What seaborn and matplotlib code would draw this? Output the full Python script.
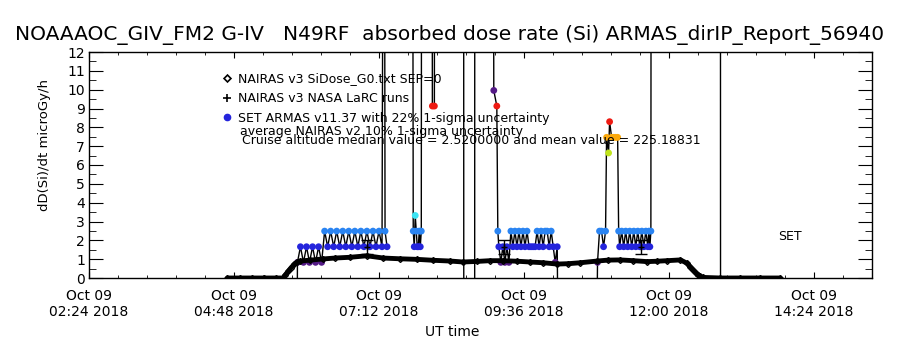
import numpy as np
import pandas as pd
import seaborn as sns
import matplotlib.pyplot as plt
from matplotlib.lines import Line2D
from matplotlib.ticker import MultipleLocator

# NAIRAS v3 SiDose_G0 model along the flight (UT hours, microGy/h)
nairas_hr = [4.69, 4.90, 5.10, 5.30, 5.50, 5.61, 5.645, 5.695, 5.745, 5.795, 5.845, 5.895,
             6.06, 6.27, 6.47, 6.72, 7.00, 7.27, 7.55, 7.83, 8.10, 8.38, 8.59, 8.82, 9.04,
             9.25, 9.49, 9.70, 9.92, 10.15, 10.33, 10.53, 10.81, 10.99, 11.19, 11.41, 11.64,
             11.80, 11.97, 12.19, 12.30, 12.35, 12.40, 12.45, 12.48, 12.52, 12.57, 12.85,
             13.18, 13.51, 13.84]
nairas_dose = [0, 0, 0, 0, 0, 0, 0.15, 0.35, 0.55, 0.72, 0.85, 0.90,
               0.95, 1.01, 1.06, 1.10, 1.18, 1.06, 1.02, 0.99, 0.94, 0.90, 0.85, 0.88, 0.92,
               0.92, 0.89, 0.85, 0.81, 0.74, 0.76, 0.81, 0.90, 0.95, 0.96, 0.92, 0.87,
               0.89, 0.92, 0.96, 0.78, 0.60, 0.42, 0.25, 0.16, 0.08, 0.03, 0,
               0, 0, 0]

# SET ARMAS record (UT minutes, microGy/h); 40 / -5 are off-scale spikes and dropouts
armas1_min = [350.5, 351, 354, 357, 360, 363, 366, 369, 372, 375, 378, 381, 384, 387, 390,
              393, 396, 399, 402, 405, 408, 411, 414, 417, 420, 423, 426, 429, 432, 435,
              437, 438, 440]
armas1_dose = [-5, 0.83, 1.66, 0.83, 1.66, 0.83, 1.66, 0.83, 1.66, 0.83, 2.49, 1.66, 2.49,
               1.66, 2.49, 1.66, 2.49, 1.66, 2.49, 1.66, 2.49, 1.66, 2.49, 1.66, 2.49, 1.66,
               2.49, 1.66, 2.49, 1.66, 40, 2.49, 1.66]

armas2_min = [465, 466, 467, 468, 469, 470, 471, 472, 473, 474, 474.5,
              484.5, 485, 487, 487.5, 516, 516.2, 527, 527.2, 545, 546, 549,
              550, 551, 553, 555, 557, 559, 561, 563, 565, 567, 569, 571, 573, 575, 577, 579,
              581, 583, 585, 587, 589, 591, 593, 595, 597, 599, 601, 603, 605, 607, 609, 610,
              648, 649, 651, 653, 655, 657, 658, 660, 661, 663, 665, 667, 669,
              670, 671, 673, 675, 677, 679, 681, 683, 685, 687, 689, 691, 693, 695, 697, 699,
              700, 701, 702, 702.5, 771, 771.2]
armas2_dose = [40, 2.49, 1.66, 3.32, 2.49, 1.66, 1.66, 2.49, 1.66, 2.49, 40,
               40, 9.13, 9.13, 40, 40, -5, -5, 40, 40, 9.96, 9.13,
               2.49, 1.66, 0.83, 1.66, 0.83, 1.66, 0.83, 2.49, 1.66, 2.49, 1.66, 2.49, 1.66,
               2.49, 1.66, 2.49,
               1.66, 1.66, 1.66, 1.66, 2.49, 1.66, 2.49, 1.66, 2.49, 2.49, 1.66, 2.49, 1.66,
               0.83, 1.66, -5,
               -5, 0.83, 2.49, 2.49, 1.66, 2.49, 7.47, 6.64, 8.30, 7.47, 7.47, 7.47, 7.47,
               2.49, 1.66, 2.49, 1.66, 2.49, 1.66, 2.49, 1.66, 2.49, 1.66, 2.49, 1.66, 2.49,
               1.66, 2.49, 1.66, 2.49, 1.66, 2.49, 40, 40, -5]

# NAIRAS v3 NASA LaRC runs with 22% 1-sigma bars
larc_min = [420, 556, 692]
larc_dose = [1.66, 1.66, 1.66]
larc_err = [0.37, 0.37, 0.37]

dose_colors = {0.83: '#541a86', 1.66: '#2424dc', 2.49: '#2a84f2', 3.32: '#3ce4f4',
               6.64: '#c0e41c', 7.47: '#fca90c', 8.30: '#ee1a12', 9.13: '#ee1a12',
               9.96: '#541a86'}

tick_hr = [2.4, 4.8, 7.2, 9.6, 12.0, 14.4]
tick_labels = ['Oct 09\n02:24 2018', 'Oct 09\n04:48 2018', 'Oct 09\n07:12 2018',
               'Oct 09\n09:36 2018', 'Oct 09\n12:00 2018', 'Oct 09\n14:24 2018']

title = 'NOAAAOC_GIV_FM2 G-IV   N49RF  absorbed dose rate (Si) ARMAS_dirIP_Report_56940'
legend_labels = ['NAIRAS v3 SiDose_G0.txt SEP=0', 'NAIRAS v3 NASA LaRC runs',
                 'SET ARMAS v11.37 with 22% 1-sigma uncertainty']

sns.set_style('ticks')
plt.rcParams['font.family'] = ['DejaVu Sans']
plt.rcParams.update({'text.color': 'black', 'axes.labelcolor': 'black',
                     'xtick.color': 'black', 'ytick.color': 'black'})

armas = pd.concat([
    pd.DataFrame({'t': np.array(armas1_min) / 60, 'dose': armas1_dose, 'seg': 1}),
    pd.DataFrame({'t': np.array(armas2_min) / 60, 'dose': armas2_dose, 'seg': 2}),
], ignore_index=True)
pts = armas[armas['dose'].isin(list(dose_colors))]

fig = plt.figure(figsize=(9, 3.5), dpi=100)
ax = fig.add_axes([89 / 900, 72 / 350, 783 / 900, 226 / 350])

sns.lineplot(data=armas, x='t', y='dose', units='seg', estimator=None, sort=False,
             color='black', lw=1, ax=ax, zorder=2)
sns.scatterplot(data=pts, x='t', y='dose', hue='dose', palette=dose_colors, s=24,
                linewidth=0, legend=False, ax=ax, zorder=3)
sns.lineplot(x=nairas_hr, y=nairas_dose, estimator=None, sort=False, color='black', lw=3.5,
             marker='D', markersize=3, markerfacecolor='none', markeredgecolor='black',
             markeredgewidth=1, ax=ax, zorder=4)
ax.errorbar(np.array(larc_min) / 60, larc_dose, yerr=larc_err, fmt='+', color='black',
            ms=5, capsize=4, lw=1, zorder=5)

handles = [Line2D([], [], marker='D', ls='none', mfc='none', mec='black', ms=3.5, mew=1.2),
           Line2D([], [], marker='+', ls='none', color='black', ms=6, mew=1.2),
           Line2D([], [], marker='o', ls='none', color='#2424dc', ms=4.5)]
ax.legend(handles, legend_labels, loc='upper left', bbox_to_anchor=(133 / 783, 206 / 226),
          frameon=False, fontsize=9, handlelength=0.8, handletextpad=0.5,
          labelspacing=0.55, borderpad=0, borderaxespad=0)
ax.text(151 / 783, 146 / 226, 'average NAIRAS v2 10% 1-sigma uncertainty',
        transform=ax.transAxes, fontsize=9, va='center')
ax.text(153 / 783, 137 / 226,
        'Cruise altitude median value = 2.5200000 and mean value = 225.18831',
        transform=ax.transAxes, fontsize=9, va='center')
ax.text(689 / 783, 41 / 226, 'SET', transform=ax.transAxes, fontsize=9, va='center')

ax.set_xlim(2.4, 15.36)
ax.set_ylim(0, 12)
ax.set_xticks(tick_hr)
ax.set_xticklabels(tick_labels)
ax.xaxis.set_minor_locator(MultipleLocator(0.48))
ax.yaxis.set_major_locator(MultipleLocator(1))
ax.yaxis.set_minor_locator(MultipleLocator(0.5))
ax.tick_params(which='both', direction='in', top=True, right=True, colors='black')
ax.tick_params(axis='y', which='major', length=10, labelsize=10, pad=3)
ax.tick_params(axis='y', which='minor', length=5)
ax.tick_params(axis='x', which='major', length=4, labelsize=10, pad=8)
ax.tick_params(axis='x', which='minor', length=2)
for sp in ax.spines.values():
    sp.set_color('black')
    sp.set_linewidth(1)

ax.set_xlabel('UT time', fontsize=10)
ax.xaxis.set_label_coords(363 / 783, -47 / 226)
ax.set_ylabel('dD(Si)/dt microGy/h', fontsize=9.5)
ax.yaxis.set_label_coords(-38 / 783, 133 / 226)

fig.text(0.5, 0.9, title, ha='center', va='center', fontsize=14.5)

fig.savefig('out.png', dpi=100)
